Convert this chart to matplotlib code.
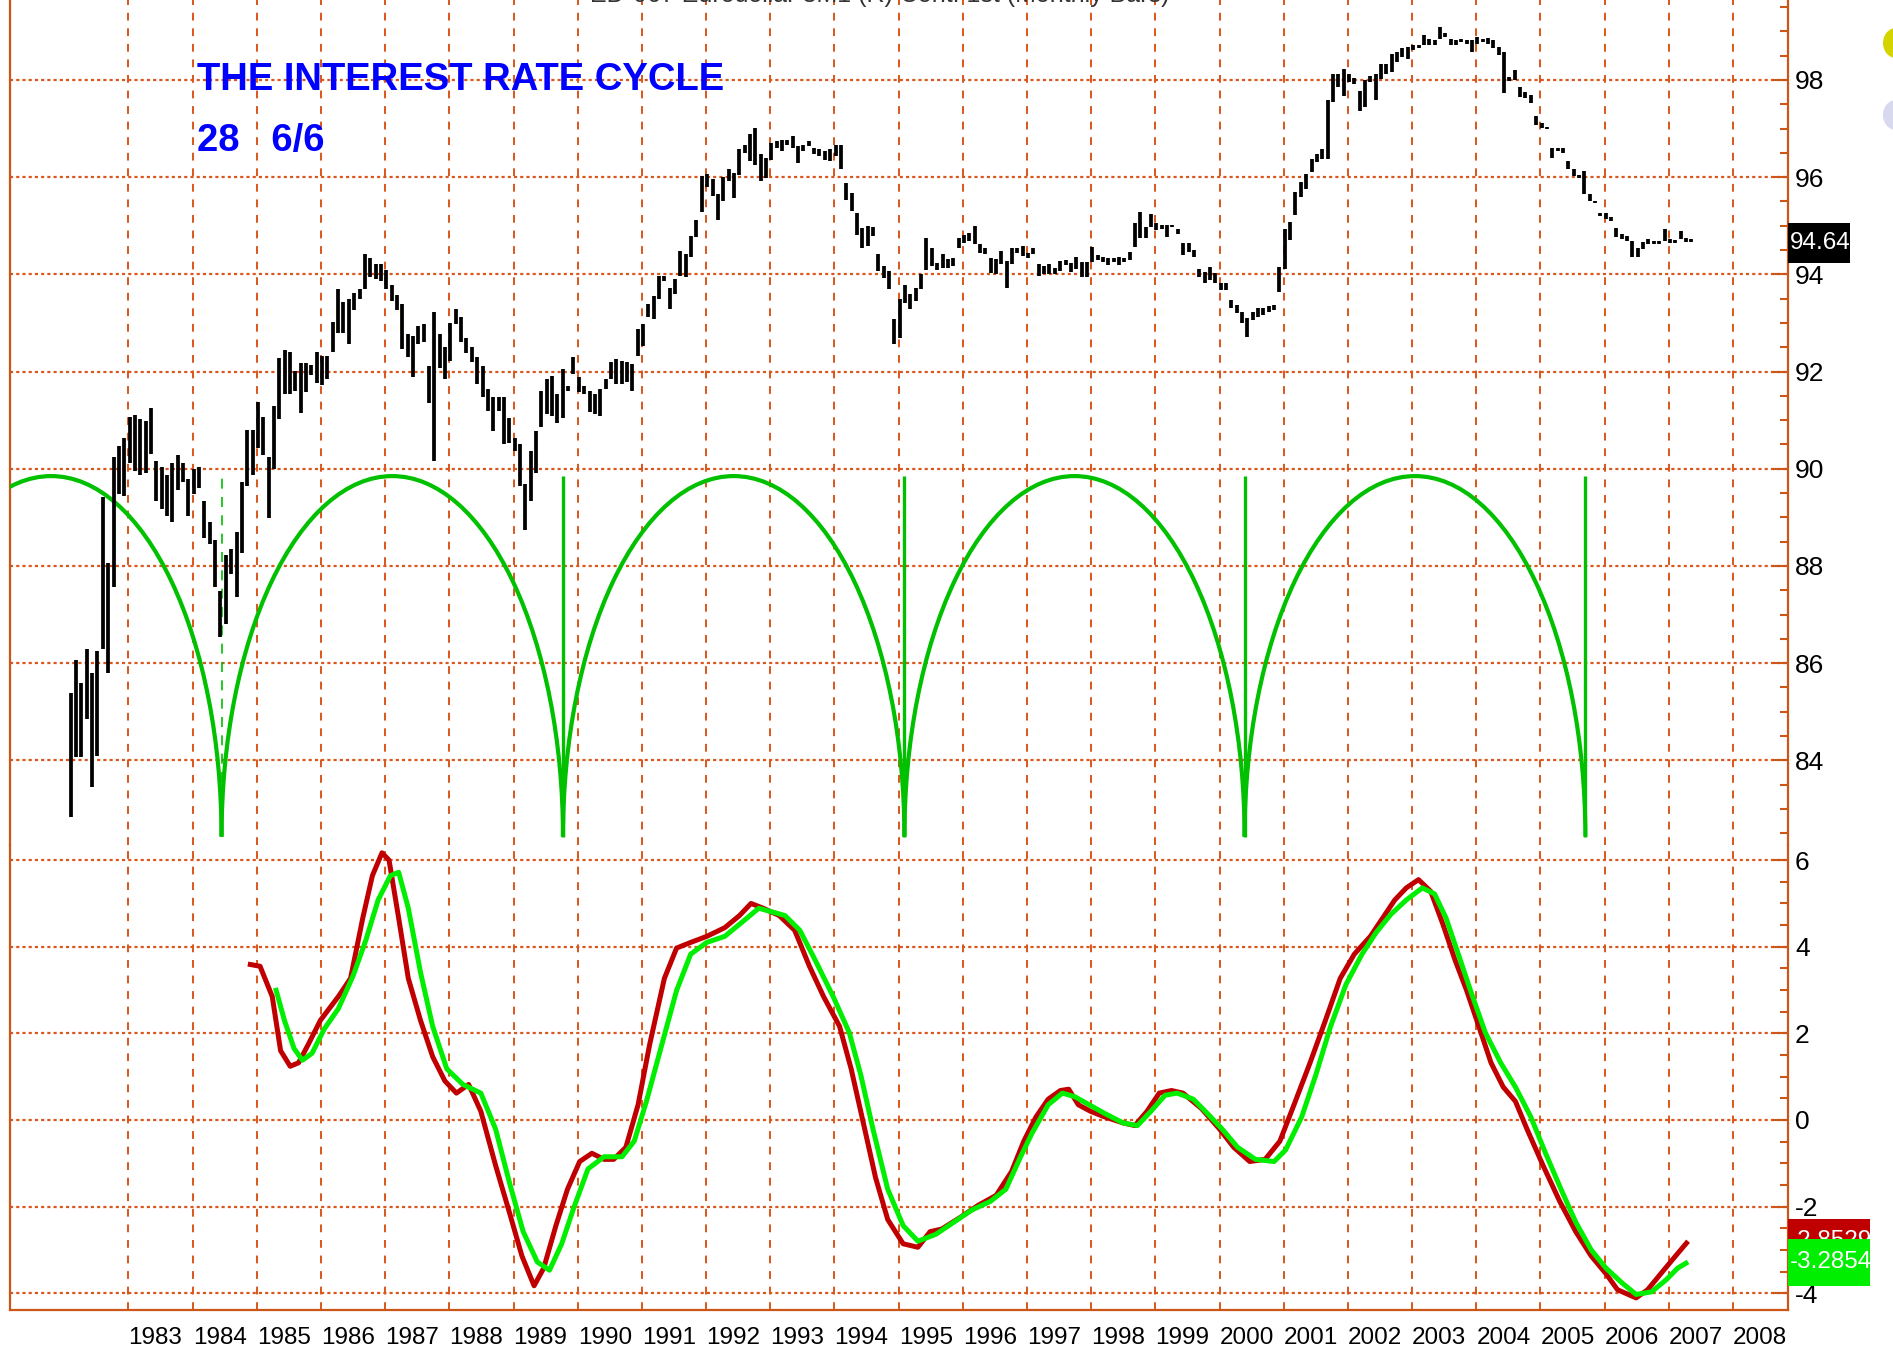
import matplotlib
matplotlib.use("Agg")
import matplotlib.pyplot as plt
from matplotlib.patches import Arc, Ellipse, Rectangle
from matplotlib.transforms import blended_transform_factory
import numpy as np

plt.rcParams['font.family'] = ['Liberation Sans', 'DejaVu Sans']
plt.rcParams['axes.unicode_minus'] = False

# Barras mensuales del futuro de Eurodólar (desde feb 1982)
bar_start = 1982.10
price_high = [
    85.39, 86.06, 85.59, 86.30, 85.80, 86.26, 89.41, 88.07, 90.24, 90.47,
    90.63, 91.06, 91.10, 91.02, 90.98, 91.26, 90.16, 90.04, 89.88, 90.12,
    90.28, 90.12, 89.80, 90.00, 90.04, 89.33, 88.90, 88.54, 87.48, 88.23,
    88.35, 88.70, 89.72, 90.79, 90.79, 91.38, 91.06, 90.24, 91.30, 92.28,
    92.44, 92.40, 92.01, 92.17, 92.17, 92.13, 92.40, 92.32, 92.32, 93.03,
    93.70, 93.43, 93.50, 93.62, 93.70, 94.41, 94.33, 94.21, 94.21, 94.10,
    93.78, 93.58, 93.39, 92.77, 92.74, 92.94, 92.98, 92.12, 93.22, 92.77,
    92.50, 93.01, 93.29, 93.12, 92.70, 92.50, 92.29, 92.12, 91.64, 91.47,
    91.47, 91.47, 91.05, 90.64, 90.51, 89.68, 90.37, 90.78, 91.60, 91.84,
    91.91, 91.54, 92.05, 91.71, 92.29, 91.88, 91.71, 91.60, 91.54, 91.64,
    91.84, 92.19, 92.26, 92.22, 92.19, 92.15, 92.87, 92.98, 93.39, 93.56,
    93.97, 93.97, 93.73, 93.91, 94.49, 94.42, 94.80, 95.11, 96.03, 96.07,
    95.97, 95.66, 96.00, 96.17, 96.09, 96.57, 96.67, 96.88, 97.01, 96.47,
    96.40, 96.71, 96.74, 96.77, 96.77, 96.84, 96.64, 96.67, 96.75, 96.60,
    96.57, 96.53, 96.57, 96.67, 96.67, 95.88, 95.68, 95.27, 94.96, 95.00,
    94.97, 94.41, 94.17, 94.07, 93.08, 93.49, 93.79, 93.59, 93.73, 94.01,
    94.75, 94.55, 94.24, 94.41, 94.31, 94.34, 94.75, 94.82, 94.86, 95.00,
    94.62, 94.55, 94.34, 94.31, 94.48, 94.27, 94.55, 94.55, 94.58, 94.45,
    94.55, 94.21, 94.17, 94.21, 94.14, 94.27, 94.29, 94.23, 94.36, 94.26,
    94.26, 94.57, 94.40, 94.36, 94.33, 94.33, 94.36, 94.33, 94.47, 95.05,
    95.29, 94.98, 95.25, 95.05, 95.01, 95.01, 95.01, 94.94, 94.64, 94.64,
    94.50, 94.12, 94.05, 94.16, 94.02, 93.82, 93.82, 93.47, 93.37, 93.23,
    93.10, 93.23, 93.30, 93.30, 93.34, 93.37, 94.16, 94.94, 95.08, 95.70,
    95.90, 96.07, 96.38, 96.48, 96.58, 97.58, 98.12, 98.12, 98.23, 98.12,
    98.05, 97.78, 97.99, 98.09, 98.12, 98.33, 98.33, 98.53, 98.58, 98.65,
    98.68, 98.72, 98.72, 98.92, 98.85, 98.82, 99.09, 98.96, 98.85, 98.82,
    98.85, 98.82, 98.82, 98.89, 98.85, 98.87, 98.82, 98.68, 98.58, 98.07,
    98.20, 97.86, 97.76, 97.69, 97.25, 97.11, 97.04, 96.60, 96.60, 96.60,
    96.33, 96.16, 96.05, 96.12, 95.65, 95.51, 95.27, 95.27, 95.18, 94.96,
    94.83, 94.79, 94.69, 94.55, 94.66, 94.72, 94.69, 94.68, 94.93, 94.72,
    94.70, 94.89, 94.74, 94.72,
]
price_low = [
    82.83, 84.06, 84.06, 84.85, 83.46, 84.09, 86.30, 85.79, 87.56, 89.49,
    89.45, 90.12, 89.96, 89.88, 89.92, 90.31, 89.33, 89.17, 89.02, 88.90,
    89.57, 89.72, 89.02, 89.49, 89.61, 88.58, 88.46, 87.56, 86.54, 86.81,
    87.83, 87.36, 88.27, 89.65, 89.88, 90.43, 90.28, 88.98, 90.00, 91.02,
    91.54, 91.54, 91.61, 91.14, 91.57, 91.93, 91.77, 91.73, 91.85, 92.40,
    92.80, 92.80, 92.56, 93.27, 93.50, 93.70, 93.94, 93.90, 93.86, 93.70,
    93.46, 93.27, 92.46, 92.29, 91.88, 92.57, 92.60, 91.36, 90.16, 92.08,
    91.84, 92.22, 92.98, 92.60, 92.39, 92.19, 91.74, 91.47, 91.19, 90.78,
    91.19, 90.51, 90.54, 90.37, 89.65, 88.75, 89.34, 89.92, 90.85, 91.12,
    91.09, 90.95, 91.05, 91.60, 91.95, 91.57, 91.54, 91.16, 91.12, 91.09,
    91.64, 91.84, 91.74, 91.74, 91.78, 91.60, 92.33, 92.53, 93.12, 93.08,
    93.49, 93.87, 93.29, 93.60, 93.97, 93.94, 94.35, 94.76, 95.28, 95.79,
    95.62, 95.11, 95.52, 95.93, 95.58, 96.05, 96.50, 96.33, 96.26, 95.92,
    95.99, 96.36, 96.60, 96.53, 96.67, 96.60, 96.29, 96.53, 96.64, 96.47,
    96.43, 96.36, 96.33, 96.43, 96.16, 95.54, 95.30, 94.82, 94.55, 94.58,
    94.79, 94.07, 93.93, 93.69, 92.56, 92.70, 93.42, 93.28, 93.45, 93.69,
    94.10, 94.17, 94.10, 94.14, 94.14, 94.17, 94.55, 94.65, 94.68, 94.62,
    94.45, 94.41, 94.03, 94.00, 94.21, 93.73, 94.21, 94.45, 94.38, 94.34,
    94.41, 93.97, 94.00, 94.00, 94.00, 94.07, 94.19, 94.05, 94.12, 93.95,
    93.95, 94.26, 94.29, 94.26, 94.19, 94.26, 94.19, 94.26, 94.29, 94.57,
    94.74, 94.74, 94.98, 94.91, 94.94, 94.77, 94.98, 94.84, 94.40, 94.46,
    94.36, 93.95, 93.82, 93.88, 93.82, 93.68, 93.68, 93.30, 93.20, 93.00,
    92.72, 93.06, 93.13, 93.16, 93.23, 93.27, 93.64, 94.12, 94.70, 95.22,
    95.59, 95.76, 96.11, 96.31, 96.38, 96.38, 97.54, 97.85, 97.68, 97.95,
    97.92, 97.37, 97.44, 97.95, 97.58, 98.02, 98.12, 98.16, 98.38, 98.48,
    98.44, 98.61, 98.65, 98.72, 98.72, 98.72, 98.85, 98.89, 98.72, 98.72,
    98.78, 98.75, 98.58, 98.75, 98.78, 98.75, 98.65, 98.51, 97.73, 97.97,
    98.00, 97.66, 97.62, 97.52, 97.08, 97.01, 97.00, 96.40, 96.53, 96.50,
    96.16, 96.02, 95.99, 95.65, 95.51, 95.47, 95.20, 95.13, 95.10, 94.76,
    94.72, 94.69, 94.35, 94.35, 94.52, 94.62, 94.62, 94.62, 94.69, 94.64,
    94.64, 94.72, 94.67, 94.67,
]
last_price = "94.64"

# Líneas de ciclo (mínimos cada ~5.3 años)
cycle_troughs = [1979.14, 1984.45, 1989.77, 1995.09, 2000.39, 2005.70]
cycle_base = 82.43
cycle_peak = 89.85

# Oscilador inferior: línea roja y su señal verde
red_years = [1984.86, 1985.05, 1985.24, 1985.37, 1985.52, 1985.65, 1985.80, 1985.99,
             1986.27, 1986.46, 1986.65, 1986.80, 1986.95, 1987.06, 1987.21, 1987.36,
             1987.55, 1987.74, 1987.93, 1988.11, 1988.30, 1988.49, 1988.72, 1988.94,
             1989.13, 1989.32, 1989.47, 1989.66, 1989.84, 1990.03, 1990.22, 1990.41,
             1990.56, 1990.75, 1990.94, 1991.12, 1991.35, 1991.54, 1991.76, 1992.01,
             1992.29, 1992.52, 1992.70, 1992.89, 1993.14, 1993.38, 1993.61, 1993.83,
             1994.08, 1994.26, 1994.45, 1994.64, 1994.83, 1995.07, 1995.30, 1995.49,
             1995.67, 1995.96, 1996.24, 1996.52, 1996.76, 1996.95, 1997.14, 1997.33,
             1997.52, 1997.65, 1997.80, 1997.99, 1998.21, 1998.50, 1998.68, 1998.87,
             1999.06, 1999.25, 1999.43, 1999.72, 2000.00, 2000.22, 2000.47, 2000.71,
             2000.94, 2001.16, 2001.41, 2001.65, 2001.88, 2002.10, 2002.35, 2002.54,
             2002.73, 2002.91, 2003.10, 2003.29, 2003.48, 2003.67, 2003.85, 2004.04,
             2004.23, 2004.42, 2004.61, 2004.79, 2005.04, 2005.30, 2005.55, 2005.79,
             2006.02, 2006.20, 2006.49, 2006.67, 2006.92, 2007.14, 2007.30]
red_vals = [3.60, 3.55, 2.85, 1.60, 1.24, 1.32, 1.74, 2.30,
            2.85, 3.27, 4.66, 5.64, 6.17, 6.00, 4.66, 3.27,
            2.30, 1.46, 0.90, 0.62, 0.82, 0.20, -1.05, -2.16,
            -3.14, -3.83, -3.42, -2.44, -1.60, -0.96, -0.77, -0.91,
            -0.91, -0.63, 0.35, 1.74, 3.27, 3.97, 4.10, 4.24,
            4.44, 4.72, 5.00, 4.89, 4.72, 4.38, 3.55, 2.85,
            2.16, 1.18, -0.07, -1.33, -2.30, -2.86, -2.94, -2.58,
            -2.52, -2.25, -1.97, -1.74, -1.19, -0.49, 0.07, 0.48,
            0.68, 0.71, 0.35, 0.20, 0.07, -0.07, -0.13, 0.20,
            0.62, 0.68, 0.62, 0.26, -0.21, -0.63, -0.96, -0.91,
            -0.49, 0.35, 1.32, 2.30, 3.27, 3.83, 4.24, 4.66,
            5.08, 5.36, 5.55, 5.28, 4.52, 3.69, 2.99, 2.16,
            1.32, 0.76, 0.43, -0.21, -1.05, -1.88, -2.58, -3.14,
            -3.55, -3.92, -4.11, -3.92, -3.47, -3.08, -2.80]
green_years = [1985.29, 1985.43, 1985.58, 1985.71, 1985.86, 1986.05, 1986.27, 1986.50,
               1986.70, 1986.89, 1987.08, 1987.21, 1987.36, 1987.55, 1987.74, 1987.96,
               1988.21, 1988.49, 1988.72, 1988.94, 1989.15, 1989.37, 1989.56, 1989.75,
               1989.94, 1990.16, 1990.41, 1990.69, 1990.88, 1991.07, 1991.31, 1991.54,
               1991.76, 1992.01, 1992.29, 1992.57, 1992.82, 1993.04, 1993.23, 1993.46,
               1993.70, 1993.98, 1994.23, 1994.41, 1994.60, 1994.83, 1995.07, 1995.30,
               1995.58, 1995.86, 1996.14, 1996.43, 1996.67, 1996.90, 1997.08, 1997.33,
               1997.55, 1997.74, 1997.97, 1998.21, 1998.50, 1998.72, 1998.93, 1999.15,
               1999.34, 1999.59, 1999.81, 2000.04, 2000.28, 2000.56, 2000.85, 2001.03,
               2001.28, 2001.50, 2001.73, 2001.97, 2002.22, 2002.44, 2002.67, 2002.91,
               2003.16, 2003.35, 2003.53, 2003.72, 2003.91, 2004.14, 2004.38, 2004.61,
               2004.85, 2005.08, 2005.32, 2005.55, 2005.79, 2006.02, 2006.26, 2006.49,
               2006.73, 2006.96, 2007.14, 2007.30]
green_vals = [3.05, 2.30, 1.65, 1.38, 1.54, 2.10, 2.57, 3.33,
              4.16, 5.08, 5.64, 5.72, 4.89, 3.41, 2.16, 1.18,
              0.82, 0.62, -0.21, -1.47, -2.58, -3.28, -3.47, -2.86,
              -2.02, -1.13, -0.85, -0.85, -0.49, 0.43, 1.74, 2.99,
              3.83, 4.10, 4.24, 4.58, 4.89, 4.80, 4.72, 4.38,
              3.69, 2.85, 2.02, 1.04, -0.21, -1.60, -2.44, -2.80,
              -2.64, -2.36, -2.08, -1.88, -1.60, -0.85, -0.30, 0.35,
              0.62, 0.54, 0.35, 0.15, -0.07, -0.13, 0.20, 0.57,
              0.62, 0.48, 0.15, -0.21, -0.63, -0.91, -0.96, -0.69,
              0.07, 1.04, 2.16, 3.13, 3.83, 4.33, 4.75, 5.08,
              5.36, 5.22, 4.66, 3.83, 2.99, 2.02, 1.32, 0.76,
              0.07, -0.77, -1.60, -2.36, -3.00, -3.42, -3.75, -4.03,
              -3.97, -3.69, -3.42, -3.28]
red_last = "-2.8529"
green_last = "-3.2854"

years = list(range(1983, 2009))

GRID = '#D9561C'
SPINE = '#CC5518'
W, H = 1893, 1361
FS = 17.5

fig = plt.figure(figsize=(W / 100, H / 100), dpi=100)
fig.patch.set_facecolor('white')

ax1 = fig.add_axes([10 / W, (H - 845) / H, 1778 / W, 845 / H])
ax2 = fig.add_axes([10 / W, (H - 1310) / H, 1778 / W, 465 / H])

for ax in (ax1, ax2):
    ax.set_xlim(1981.154, 2008.857)
    ax.set_xticks(years)
    ax.yaxis.tick_right()
    ax.tick_params(axis='y', which='major', direction='in', length=11, width=1.5,
                   color=SPINE, labelsize=19, pad=5, labelcolor='black')
    ax.tick_params(axis='y', which='minor', direction='in', length=5.5, width=1.5, color=SPINE)
    ax.tick_params(axis='x', length=0)
    ax.grid(axis='x', color=GRID, linestyle=(0, (4, 4)), linewidth=1.4)
    ax.grid(axis='y', which='major', color=GRID, linestyle=(0, (1.4, 1.4)), linewidth=1.6)
    ax.set_axisbelow(True)
    for s in ax.spines.values():
        s.set_color(SPINE)
        s.set_linewidth(1.6)
    ax.spines['top'].set_visible(False)

ax1.spines['bottom'].set_visible(False)
ax1.tick_params(axis='x', labelbottom=False)

# Panel superior: precio
ax1.set_ylim(82.259, 99.646)
ax1.set_yticks(np.arange(84, 99, 2))
ax1.set_yticks(np.arange(82.5, 99.6, 0.5), minor=True)

bar_x = bar_start + np.arange(len(price_high)) / 12
ax1.vlines(bar_x, price_low, price_high, color='black', linewidth=2.7, zorder=4)

# Ciclos: semielipses entre mínimos
for t0, t1 in zip(cycle_troughs[:-1], cycle_troughs[1:]):
    arc = Arc(((t0 + t1) / 2, cycle_base), t1 - t0, 2 * (cycle_peak - cycle_base),
              theta1=0, theta2=180, color='#00C000', linewidth=3.0, zorder=3)
    ax1.add_patch(arc)
ax1.vlines(cycle_troughs[1], cycle_base, cycle_peak, color='#00C000', linewidth=1.2,
           linestyles=(0, (6, 5)), zorder=3)
ax1.vlines(cycle_troughs[2:], cycle_base, cycle_peak, color='#00C000', linewidth=2.4, zorder=3)

# Panel inferior: oscilador
ax2.set_ylim(-4.389, 6.35)
ax2.set_yticks(np.arange(-4, 7, 2))
ax2.set_yticks(np.arange(-4, 6.1, 0.5), minor=True)
ax2.plot(red_years, red_vals, color='#C00000', linewidth=3.6, solid_capstyle='butt', zorder=4)
ax2.plot(green_years, green_vals, color='#00EE00', linewidth=3.6, solid_capstyle='butt', zorder=5)

ax2.set_xticklabels([str(y) for y in years])
ax2.tick_params(axis='x', labelsize=FS, pad=12)
for lbl in ax2.get_xticklabels():
    lbl.set_horizontalalignment('left')

# Etiquetas de último valor (caja de color + texto blanco)
def value_box(ax, value, text, color, px_h, px_w, unit_px, z):
    tr = blended_transform_factory(ax.transAxes, ax.transData)
    h = px_h / unit_px
    ax.add_patch(Rectangle((1.0, float(value) - h / 2), px_w / 1778, h, transform=tr,
                           facecolor=color, edgecolor='none', clip_on=False, zorder=z))
    ax.text(1.0 + 2 / 1778, float(value), text, transform=tr, color='white', fontsize=17.5,
            ha='left', va='center', clip_on=False, zorder=z + 0.5)

value_box(ax1, last_price, last_price, 'black', 40, 62, 48.6, 10)
value_box(ax2, -2.79, red_last, '#C00000', 43, 82, 43.3, 10)
value_box(ax2, green_last, green_last, '#00EE00', 47, 82, 43.3, 12)

# Títulos
fig.text(197 / W, 1 - 90 / H, 'THE INTEREST RATE CYCLE', color='#0000FF', fontsize=27.5,
         fontweight='bold', va='baseline', ha='left')
fig.text(197 / W, 1 - 151 / H, '28   6/6', color='#0000FF', fontsize=27.5,
         fontweight='bold', va='baseline', ha='left')
fig.text(590 / W, 1 + 5 / H, 'ED-067 Eurodollar 3M1 (R) Cont. 1st (Monthly Bars)', color='#333333',
         fontsize=18, va='center', ha='left')

# Marcas de la ventana en el borde derecho
fig.patches.append(Ellipse((1896 / W, 1 - 43 / H), 26 / W, 30 / H, transform=fig.transFigure,
                           facecolor='#D4D400', edgecolor='none'))
fig.patches.append(Ellipse((1896 / W, 1 - 115 / H), 26 / W, 30 / H, transform=fig.transFigure,
                           facecolor='#D8D8EE', edgecolor='none'))

fig.savefig('out.png', dpi=100)
